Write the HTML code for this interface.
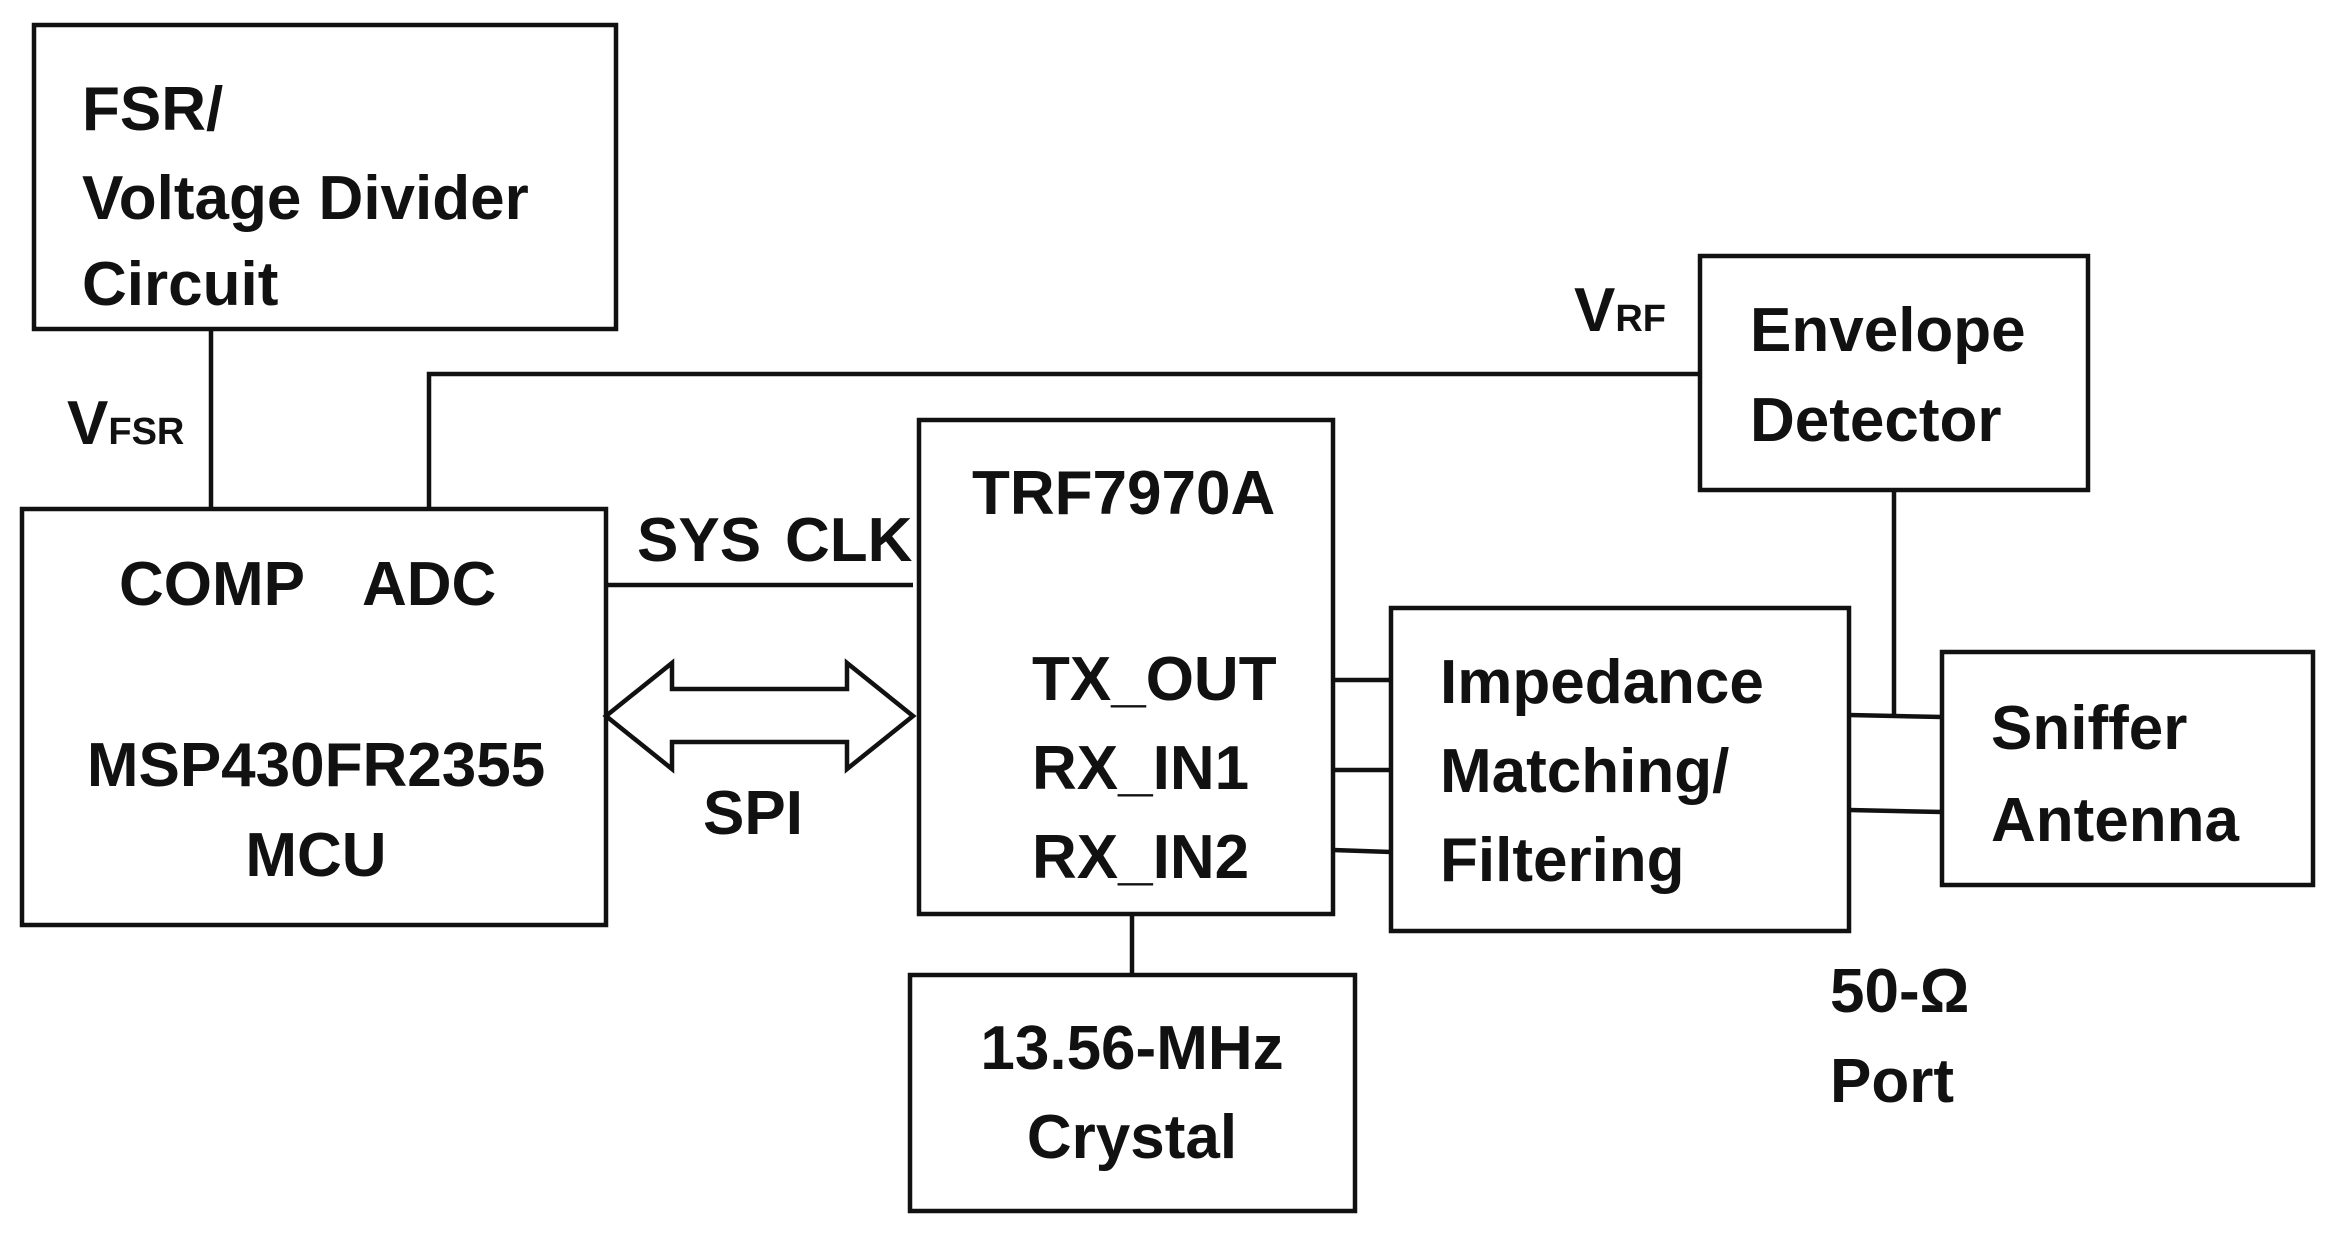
<!DOCTYPE html>
<html><head><meta charset="utf-8"><style>
html,body{margin:0;padding:0;background:#fff;}
svg{display:block;}
text{font-family:"Liberation Sans",sans-serif;font-weight:bold;font-size:62px;fill:#111;}
.s{font-size:38px;}
</style></head><body>
<svg width="2335" height="1235" viewBox="0 0 2335 1235" xmlns="http://www.w3.org/2000/svg">
<g fill="none" stroke="#111" stroke-width="4.5">
<rect x="34" y="25" width="582" height="304"/>
<rect x="22" y="509" width="584" height="416"/>
<rect x="919" y="420" width="414" height="494"/>
<rect x="910" y="975" width="445" height="236"/>
<rect x="1700" y="256" width="388" height="234"/>
<rect x="1391" y="608" width="458" height="323"/>
<rect x="1942" y="652" width="371" height="233"/>
<line x1="211" y1="329" x2="211" y2="509"/>
<polyline points="429,509 429,374 1700,374"/>
<line x1="606" y1="585" x2="913" y2="585"/>
<polygon points="606,716 672,663 672,689 847,689 847,663 913,716 847,769 847,742 672,742 672,769"/>
<line x1="1132" y1="914" x2="1132" y2="975"/>
<line x1="1333" y1="680" x2="1391" y2="680"/>
<line x1="1333" y1="770" x2="1391" y2="770"/>
<line x1="1333" y1="850" x2="1391" y2="852"/>
<line x1="1894" y1="490" x2="1894" y2="715"/>
<line x1="1849" y1="715" x2="1942" y2="717"/>
<line x1="1849" y1="810" x2="1942" y2="812"/>
</g>
<text x="82" y="130">FSR/</text>
<text x="82" y="219">Voltage Divider</text>
<text x="82" y="305">Circuit</text>
<text x="67" y="444">V<tspan class="s">FSR</tspan></text>
<text x="119" y="605">COMP</text>
<text x="362" y="605">ADC</text>
<text x="316" y="786" text-anchor="middle">MSP430FR2355</text>
<text x="316" y="876" text-anchor="middle">MCU</text>
<text x="637" y="561">SYS</text>
<text x="785" y="561">CLK</text>
<text x="703" y="834">SPI</text>
<text x="972" y="514">TRF7970A</text>
<text x="1032" y="700">TX_OUT</text>
<text x="1032" y="789">RX_IN1</text>
<text x="1032" y="878">RX_IN2</text>
<text x="1132" y="1069" text-anchor="middle">13.56-MHz</text>
<text x="1132" y="1158" text-anchor="middle">Crystal</text>
<text x="1574" y="331">V<tspan class="s">RF</tspan></text>
<text x="1750" y="351">Envelope</text>
<text x="1750" y="441">Detector</text>
<text x="1440" y="703">Impedance</text>
<text x="1440" y="792">Matching/</text>
<text x="1440" y="881">Filtering</text>
<text x="1991" y="749">Sniffer</text>
<text x="1991" y="841">Antenna</text>
<text x="1830" y="1012">50-Ω</text>
<text x="1830" y="1102">Port</text>
</svg>
</body></html>
